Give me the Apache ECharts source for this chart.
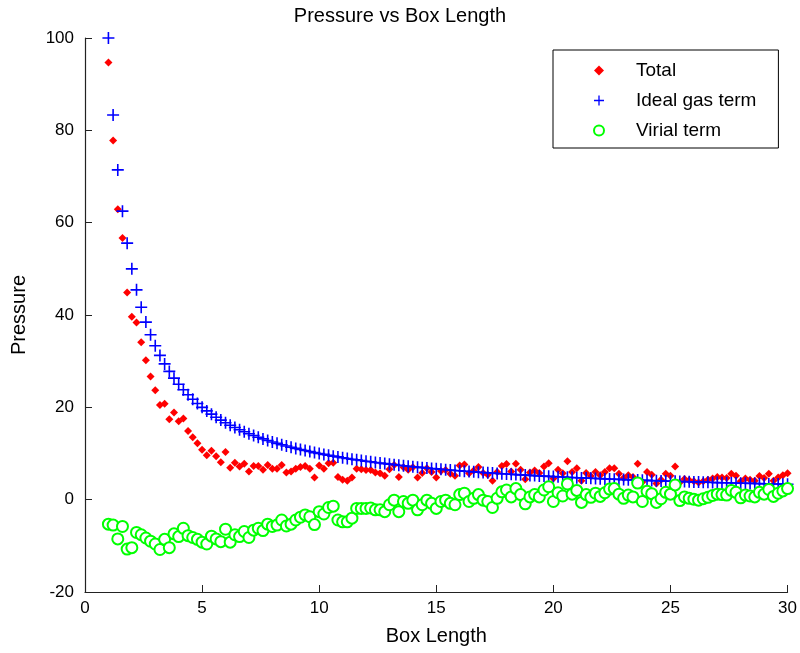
<!DOCTYPE html>
<html>
	<head>
		<meta charset="utf-8">
		<title>Pressure vs Box Length</title>
		<script src="https://cdn.jsdelivr.net/npm/echarts@6/dist/echarts.min.js"></script>
	</head>
	<body style="margin:0">
		<div id="box" style="width: 800px;height: 653px;"></div>
		<script>
			// box length samples, step 0.2
			var boxLength = [
				1, 1.2, 1.4, 1.6, 1.8, 2, 2.2, 2.4, 2.6, 2.8,
				3, 3.2, 3.4, 3.6, 3.8, 4, 4.2, 4.4, 4.6, 4.8,
				5, 5.2, 5.4, 5.6, 5.8, 6, 6.2, 6.4, 6.6, 6.8,
				7, 7.2, 7.4, 7.6, 7.8, 8, 8.2, 8.4, 8.6, 8.8,
				9, 9.2, 9.4, 9.6, 9.8, 10, 10.2, 10.4, 10.6, 10.8,
				11, 11.2, 11.4, 11.6, 11.8, 12, 12.2, 12.4, 12.6, 12.8,
				13, 13.2, 13.4, 13.6, 13.8, 14, 14.2, 14.4, 14.6, 14.8,
				15, 15.2, 15.4, 15.6, 15.8, 16, 16.2, 16.4, 16.6, 16.8,
				17, 17.2, 17.4, 17.6, 17.8, 18, 18.2, 18.4, 18.6, 18.8,
				19, 19.2, 19.4, 19.6, 19.8, 20, 20.2, 20.4, 20.6, 20.8,
				21, 21.2, 21.4, 21.6, 21.8, 22, 22.2, 22.4, 22.6, 22.8,
				23, 23.2, 23.4, 23.6, 23.8, 24, 24.2, 24.4, 24.6, 24.8,
				25, 25.2, 25.4, 25.6, 25.8, 26, 26.2, 26.4, 26.6, 26.8,
				27, 27.2, 27.4, 27.6, 27.8, 28, 28.2, 28.4, 28.6, 28.8,
				29, 29.2, 29.4, 29.6, 29.8, 30
			]
			var totalP = [
				94.7, 77.8, 62.9, 56.7, 44.9, 39.6, 38.4, 34.1, 30.2, 26.7,
				23.7, 20.5, 20.8, 17.4, 18.9, 17.0, 17.6, 14.9, 13.5, 12.2,
				10.8, 9.6, 10.6, 9.4, 8.1, 10.3, 6.9, 8.0, 7.2, 7.8,
				6.1, 7.3, 7.3, 6.5, 7.5, 6.7, 6.7, 7.5, 5.9, 6.1,
				6.7, 7.1, 7.3, 6.7, 4.8, 7.4, 6.7, 7.9, 8.0, 4.9,
				4.3, 4.1, 4.8, 6.7, 6.6, 6.4, 6.4, 5.9, 5.7, 5.2,
				6.6, 7.5, 4.9, 7.0, 6.5, 7.0, 4.8, 5.8, 6.8, 6.0,
				4.8, 6.2, 6.4, 5.6, 5.2, 7.4, 7.6, 5.7, 6.3, 7.1,
				5.8, 5.4, 4.1, 6.0, 7.3, 7.7, 6.1, 7.8, 6.5, 4.4,
				5.9, 6.3, 5.8, 7.2, 7.9, 4.6, 6.5, 5.7, 8.3, 6.0,
				6.8, 4.1, 5.8, 5.1, 6.0, 5.3, 6.0, 6.8, 6.8, 5.6,
				4.7, 5.3, 4.9, 7.8, 3.8, 6.0, 5.4, 3.5, 4.3, 5.6,
				5.2, 7.2, 3.7, 4.5, 4.2, 4.0, 3.7, 4.0, 4.3, 4.6,
				4.9, 4.8, 4.7, 5.6, 5.2, 4.0, 4.6, 4.3, 4.1, 5.1,
				4.7, 5.6, 4.1, 4.8, 5.3, 5.7
			]
			var idealP = [
				100, 83.33, 71.43, 62.5, 55.56, 50, 45.45, 41.67, 38.46, 35.71,
				33.33, 31.25, 29.41, 27.78, 26.32, 25, 23.81, 22.73, 21.74, 20.83,
				20, 19.23, 18.52, 17.86, 17.24, 16.67, 16.13, 15.63, 15.15, 14.71,
				14.29, 13.89, 13.51, 13.16, 12.82, 12.5, 12.2, 11.9, 11.63, 11.36,
				11.11, 10.87, 10.64, 10.42, 10.2, 10, 9.8, 9.62, 9.43, 9.26,
				9.09, 8.93, 8.77, 8.62, 8.47, 8.33, 8.2, 8.06, 7.94, 7.81,
				7.69, 7.58, 7.46, 7.35, 7.25, 7.14, 7.04, 6.94, 6.85, 6.76,
				6.67, 6.58, 6.49, 6.41, 6.33, 6.25, 6.17, 6.1, 6.02, 5.95,
				5.88, 5.81, 5.75, 5.68, 5.62, 5.56, 5.49, 5.43, 5.38, 5.32,
				5.26, 5.21, 5.15, 5.1, 5.05, 5, 4.95, 4.9, 4.85, 4.81,
				4.76, 4.72, 4.67, 4.63, 4.59, 4.55, 4.5, 4.46, 4.42, 4.39,
				4.35, 4.31, 4.27, 4.24, 4.2, 4.17, 4.13, 4.1, 4.07, 4.03,
				4, 3.97, 3.94, 3.91, 3.88, 3.85, 3.82, 3.79, 3.76, 3.73,
				3.7, 3.68, 3.65, 3.62, 3.6, 3.57, 3.55, 3.52, 3.5, 3.47,
				3.45, 3.42, 3.4, 3.38, 3.36, 3.33
			]
			var virialP = [
				-5.3, -5.5, -8.5, -5.8, -10.7, -10.4, -7.1, -7.6, -8.3, -9.0,
				-9.6, -10.8, -8.6, -10.4, -7.4, -8.0, -6.2, -7.8, -8.2, -8.6,
				-9.2, -9.6, -7.9, -8.5, -9.1, -6.4, -9.2, -7.6, -8.0, -6.9,
				-8.2, -6.6, -6.2, -6.7, -5.3, -5.8, -5.5, -4.4, -5.7, -5.3,
				-4.4, -3.8, -3.3, -3.7, -5.4, -2.6, -3.1, -1.7, -1.4, -4.4,
				-4.8, -4.8, -4.0, -1.9, -1.9, -1.9, -1.8, -2.2, -2.2, -2.6,
				-1.1, -0.1, -2.6, -0.4, -0.8, -0.1, -2.2, -1.1, -0.1, -0.8,
				-1.9, -0.4, -0.1, -0.8, -1.1, 1.1, 1.4, -0.4, 0.3, 1.1,
				-0.1, -0.4, -1.7, 0.3, 1.7, 2.1, 0.6, 2.4, 1.1, -0.9,
				0.6, 1.1, 0.6, 2.1, 2.8, -0.4, 1.5, 0.8, 3.4, 1.2,
				2.0, -0.6, 1.1, 0.5, 1.4, 0.7, 1.5, 2.3, 2.4, 1.2,
				0.3, 1.0, 0.6, 3.6, -0.4, 1.8, 1.3, -0.6, 0.2, 1.6,
				1.2, 3.2, -0.2, 0.6, 0.3, 0.1, -0.1, 0.2, 0.5, 0.9,
				1.2, 1.1, 1.0, 2.0, 1.6, 0.4, 1.0, 0.8, 0.6, 1.6,
				1.2, 2.2, 0.7, 1.4, 1.9, 2.4
			]
			var seriesNames = ['Total', 'Ideal gas term', 'Virial term']

			function pairs(ys) {
				return boxLength.map(function (x, i) { return [x, ys[i]] })
			}

			var plusPath = 'path://M5.2,0H6.8V5.2H12V6.8H6.8V12H5.2V6.8H0V5.2H5.2Z'
			var font = 'Liberation Sans, Arial, sans-serif'

			var mCharts = echarts.init(document.querySelector('#box'))
			var option = {
				animation: false,
				backgroundColor: '#fff',
				title: {
					text: 'Pressure vs Box Length',
					left: 'center',
					top: 1,
					padding: [5, 0, 5, 66],
					textStyle: { fontFamily: font, fontSize: 20, fontWeight: 'normal', color: '#000' }
				},
				legend: {
					orient: 'vertical',
					left: 553,
					top: 50,
					padding: [11, 22, 8, 40],
					itemGap: 11,
					itemWidth: 10,
					itemHeight: 10,
					borderColor: '#000',
					borderWidth: 1,
					textStyle: { fontFamily: font, fontSize: 19, color: '#000', padding: [0, 0, 0, 27] },
					data: [
						{ name: 'Total', icon: 'diamond' },
						{ name: 'Ideal gas term', icon: plusPath },
						{ name: 'Virial term', icon: 'emptyCircle' }
					]
				},
				grid: { left: 85, right: 11, top: 38, bottom: 61 },
				xAxis: {
					type: 'value',
					min: 0, max: 30, interval: 5,
					name: 'Box Length',
					nameLocation: 'middle',
					nameGap: 34,
					nameTextStyle: { fontFamily: font, fontSize: 20, color: '#000' },
					axisLine: { onZero: false, lineStyle: { color: '#222', width: 1.2 } },
					axisTick: { inside: true, length: 7, lineStyle: { color: '#222' } },
					axisLabel: { fontFamily: font, fontSize: 17, color: '#000', margin: 8 },
					splitLine: { show: false }
				},
				yAxis: {
					type: 'value',
					min: -20, max: 100, interval: 20,
					name: 'Pressure',
					nameLocation: 'middle',
					nameGap: 56,
					nameTextStyle: { fontFamily: font, fontSize: 20, color: '#000' },
					axisLine: { show: true, onZero: false, lineStyle: { color: '#222', width: 1.2 } },
					axisTick: { show: true, inside: true, length: 7, lineStyle: { color: '#222' } },
					axisLabel: { fontFamily: font, fontSize: 17, color: '#000', margin: 11 },
					splitLine: { show: false }
				},
				series: [
					{
						name: seriesNames[0],
						type: 'scatter',
						symbol: 'diamond',
						symbolSize: 8,
						itemStyle: { color: '#ff0000', opacity: 1 },
						data: pairs(totalP)
					},
					{
						name: seriesNames[1],
						type: 'scatter',
						symbol: plusPath,
						symbolSize: 12,
						itemStyle: { color: '#0000ff', opacity: 1 },
						data: pairs(idealP)
					},
					{
						name: seriesNames[2],
						type: 'scatter',
						symbol: 'emptyCircle',
						symbolSize: 11,
						itemStyle: { color: '#00ff00', borderColor: '#00ff00', borderWidth: 1, opacity: 1 },
						data: pairs(virialP)
					}
				]
			}
			mCharts.setOption(option)
		</script>
	</body>
</html>
